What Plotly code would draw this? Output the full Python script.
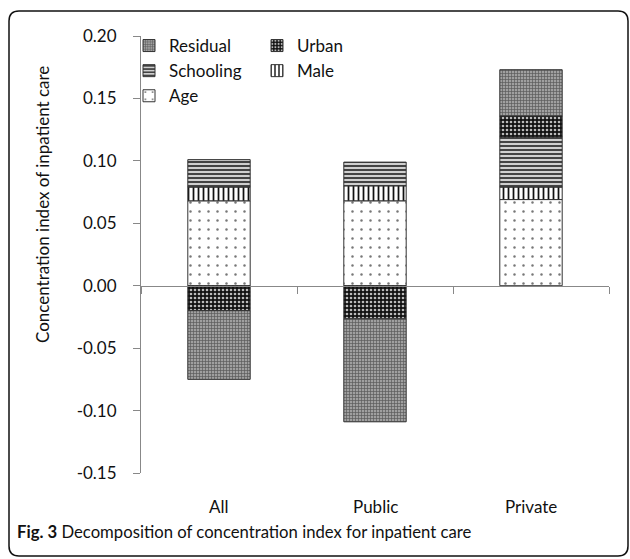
import plotly.graph_objects as go

categories = ["All", "Public", "Private"]
age = [0.068, 0.068, 0.069]
male = [0.011, 0.012, 0.010]
schooling = [0.022, 0.019, 0.040]
urban = [-0.020, -0.0265, 0.017]
residual = [-0.055, -0.0825, 0.037]

ytick_vals = [-0.15, -0.10, -0.05, 0.00, 0.05, 0.10, 0.15, 0.20]
ytick_text = ["-0.15", "-0.10", "-0.05", "0.00", "0.05", "0.10", "0.15", "0.20"]

y_title = "Concentration index of inpatient care"
caption = "<b>Fig. 3</b> Decomposition of concentration index for inpatient care"

FONT = "Lato"
W, H = 630, 559
L, R, T, B = 141, 21, 36, 86
PW, PH = W - L - R, H - T - B


def px_x(p):
    return (p - L) / PW


def px_y(p):
    return (H - B - p) / PH


series = [
    ("Age", age, dict(shape=".", bgcolor="white", fgcolor="#777", size=9, solidity=0.06), "legend", 3),
    ("Male", male, dict(shape="|", bgcolor="white", fgcolor="#111", size=5, solidity=0.35), "legend2", 2),
    ("Schooling", schooling, dict(shape="-", bgcolor="#cfcfcf", fgcolor="#333", size=4, solidity=0.45), "legend", 2),
    ("Urban", urban, dict(shape=".", bgcolor="#111", fgcolor="#bbb", size=4, solidity=0.35), "legend2", 1),
    ("Residual", residual, dict(shape="+", bgcolor="#a0a0a0", fgcolor="#5a5a5a", size=3, solidity=0.4), "legend", 1),
]

fig = go.Figure()
for name, vals, pat, leg, rank in series:
    fig.add_trace(go.Bar(
        x=categories, y=vals, name=name, width=0.4,
        marker=dict(color="white", pattern=dict(fillmode="replace", **pat),
                    line=dict(color="#333", width=1)),
        legend=leg, legendrank=rank,
    ))

legfont = dict(family=FONT, size=17, color="#111")
fig.update_layout(
    width=W, height=H,
    margin=dict(l=L, r=R, t=T, b=B),
    barmode="relative",
    plot_bgcolor="white", paper_bgcolor="white",
    font=dict(family=FONT, size=16, color="#111"),
    legend=dict(x=px_x(129), y=px_y(28), xanchor="left", yanchor="top",
                font=legfont, bgcolor="rgba(0,0,0,0)", tracegroupgap=0, itemwidth=30),
    legend2=dict(x=px_x(257), y=px_y(28), xanchor="left", yanchor="top",
                 font=legfont, bgcolor="rgba(0,0,0,0)", tracegroupgap=0, itemwidth=30),
    xaxis=dict(type="category", categoryorder="array", categoryarray=categories,
               range=[-0.5, 2.5], anchor="free", position=0.15 / 0.35,
               showline=True, linecolor="#888", linewidth=1,
               ticks="outside", tickson="boundaries", ticklen=7, tickcolor="#888",
               showticklabels=False, showgrid=False, zeroline=False),
    yaxis=dict(range=[-0.15, 0.20], tickvals=ytick_vals, ticktext=ytick_text,
               showline=True, linecolor="#888", linewidth=1,
               ticks="outside", ticklen=7, tickcolor="#888",
               showgrid=False, zeroline=False, ticklabelstandoff=13,
               tickfont=dict(family=FONT, size=17, color="#111")),
)

for c in categories:
    fig.add_annotation(x=c, xref="x", y=px_y(506), yref="paper", text=c,
                       xanchor="center", yanchor="middle",
                       showarrow=False, font=dict(family=FONT, size=17, color="#111"))

fig.add_annotation(x=px_x(42), y=px_y(205), xref="paper", yref="paper",
                   xanchor="center", yanchor="middle",
                   text=y_title, textangle=-90, showarrow=False,
                   font=dict(family=FONT, size=17, color="#111"))

fig.add_annotation(x=px_x(15), y=px_y(532), xref="paper", yref="paper",
                   xanchor="left", yanchor="middle", text=caption, showarrow=False,
                   font=dict(family=FONT, size=16.7, color="#111"))

xl, xr = px_x(9), px_x(628)
yt, yb = px_y(11), px_y(556)
rx, ry = 10 / PW, 10 / PH
path = (f"M {xl+rx},{yt} L {xr-rx},{yt} Q {xr},{yt} {xr},{yt-ry} "
        f"L {xr},{yb+ry} Q {xr},{yb} {xr-rx},{yb} L {xl+rx},{yb} "
        f"Q {xl},{yb} {xl},{yb+ry} L {xl},{yt-ry} Q {xl},{yt} {xl+rx},{yt} Z")
fig.add_shape(type="path", path=path, xref="paper", yref="paper",
              line=dict(color="#111", width=1.5), layer="above")

fig.write_html("out.html", config={"displayModeBar": False},
               post_script="document.body.style.margin='0';document.body.style.padding='0';")
